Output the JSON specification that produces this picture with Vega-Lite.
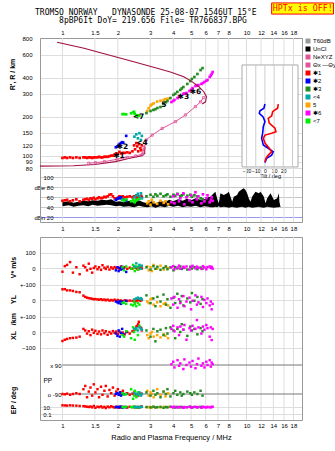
{
"$schema":"https://vega.github.io/schema/vega-lite/v6.json",
"width":262,"height":382,
"autosize":{"type":"none"},
"padding":{"left":40,"top":38,"right":33,"bottom":31},
"background":"white",
"title":{"text":["TROMSO NORWAY\u00a0\u00a0\u00a0DYNASONDE 25-08-07 1546UT 15\u00b0E","\u200b\u00a0\u00a0\u00a0\u00a0\u00a08pBP6It DoY= 219.656 File= TR766837.BPG"],"font":"DejaVu Sans Mono","fontSize":8,"fontWeight":"normal","color":"#000","anchor":"start","frame":"group","dx":-5,"offset":-23,"lineHeight":8.5},
"config":{"view":{"stroke":null},"axis":{"labelFont":"Liberation Sans","labelFontSize":6,"labelColor":"#000","titleFont":"Liberation Sans","titleFontSize":7,"titleFontWeight":"bold","titleColor":"#000","domainColor":"#999","gridColor":"#dddddd","ticks":false,"labelFlush":false,"labelOverlap":false}},
"datasets":{
"ticks":[{"f":1},{"f":1.5},{"f":2},{"f":3},{"f":4},{"f":5},{"f":6},{"f":7},{"f":8},{"f":10},{"f":12},{"f":14},{"f":16},{"f":18}],
"echo":[
{"s":"1","f":1.00,"h":96,"a":53,"v":-24,"yl":69,"xl":-58,"pp":-90,"ep":30},
{"s":"1","f":1.03,"h":97,"a":54,"v":12,"yl":70,"xl":-50,"pp":-92,"ep":28},
{"s":"1","f":1.06,"h":96,"a":55,"v":20,"yl":62,"xl":-45,"pp":-88,"ep":25},
{"s":"1","f":1.10,"h":97,"a":52,"v":38,"yl":62,"xl":-40,"pp":-95,"ep":30},
{"s":"1","f":1.14,"h":96,"a":54,"v":-30,"yl":58,"xl":-38,"pp":-90,"ep":26},
{"s":"1","f":1.19,"h":97,"a":56,"v":5,"yl":52,"xl":-36,"pp":-85,"ep":24},
{"s":"1","f":1.24,"h":96,"a":52,"v":-40,"yl":50,"xl":-30,"pp":-90,"ep":20},
{"s":"1","f":1.30,"h":97,"a":55,"v":15,"yl":28,"xl":20,"pp":-60,"ep":18},
{"s":"1","f":1.33,"h":97,"a":56,"v":5,"yl":20,"xl":10,"pp":-40,"ep":15},
{"s":"1","f":1.36,"h":96,"a":57,"v":-15,"yl":15,"xl":-10,"pp":-110,"ep":12},
{"s":"1","f":1.39,"h":97,"a":55,"v":28,"yl":12,"xl":5,"pp":-75,"ep":10},
{"s":"1","f":1.42,"h":97,"a":58,"v":-5,"yl":10,"xl":-20,"pp":-50,"ep":14},
{"s":"1","f":1.45,"h":96,"a":57,"v":-30,"yl":8,"xl":15,"pp":-100,"ep":8},
{"s":"1","f":1.48,"h":97,"a":59,"v":0,"yl":5,"xl":-5,"pp":-30,"ep":20},
{"s":"1","f":1.51,"h":97,"a":56,"v":10,"yl":6,"xl":8,"pp":-80,"ep":6},
{"s":"1","f":1.55,"h":97,"a":58,"v":-8,"yl":4,"xl":-12,"pp":-60,"ep":12},
{"s":"1","f":1.58,"h":98,"a":60,"v":5,"yl":2,"xl":3,"pp":-110,"ep":9},
{"s":"1","f":1.62,"h":97,"a":58,"v":-12,"yl":5,"xl":-15,"pp":-45,"ep":15},
{"s":"1","f":1.65,"h":97,"a":59,"v":18,"yl":0,"xl":10,"pp":-95,"ep":7},
{"s":"1","f":1.69,"h":98,"a":61,"v":2,"yl":3,"xl":-8,"pp":-70,"ep":11},
{"s":"1","f":1.72,"h":98,"a":60,"v":-6,"yl":-2,"xl":5,"pp":-40,"ep":5},
{"s":"1","f":1.76,"h":98,"a":62,"v":8,"yl":2,"xl":-18,"pp":-105,"ep":13},
{"s":"1","f":1.80,"h":99,"a":65,"v":-10,"yl":-4,"xl":0,"pp":-65,"ep":8},
{"s":"1","f":1.84,"h":100,"a":66,"v":4,"yl":0,"xl":-10,"pp":-85,"ep":16},
{"s":"1","f":1.88,"h":100,"a":62,"v":-4,"yl":-3,"xl":6,"pp":-50,"ep":10},
{"s":"1","f":1.92,"h":102,"a":58,"v":6,"yl":2,"xl":-5,"pp":-100,"ep":7},
{"s":"1","f":1.96,"h":104,"a":57,"v":-2,"yl":-5,"xl":3,"pp":-75,"ep":12},
{"s":"1","f":2.00,"h":103,"a":59,"v":3,"yl":0,"xl":-12,"pp":-60,"ep":9},
{"s":"1","f":2.04,"h":107,"a":62,"v":-8,"yl":-6,"xl":2,"pp":-95,"ep":6},
{"s":"1","f":2.08,"h":104,"a":61,"v":10,"yl":-3,"xl":-8,"pp":-80,"ep":14},
{"s":"1","f":2.13,"h":105,"a":62,"v":-3,"yl":-8,"xl":-4,"pp":-70,"ep":8},
{"s":"1","f":2.18,"h":105,"a":60,"v":5,"yl":-2,"xl":-15,"pp":-90,"ep":10},
{"s":"1","f":2.25,"h":106,"a":61,"v":-5,"yl":-6,"xl":0,"pp":-85,"ep":7},
{"s":"1","f":2.32,"h":105,"a":62,"v":2,"yl":-4,"xl":-10,"pp":-95,"ep":12},
{"s":"1","f":2.40,"h":108,"a":60,"v":-4,"yl":-5,"xl":5,"pp":-88,"ep":9},
{"s":"1","f":2.48,"h":112,"a":61,"v":3,"yl":-8,"xl":20,"pp":-92,"ep":11},
{"s":"1","f":2.55,"h":118,"a":60,"v":-6,"yl":-3,"xl":40,"pp":-90,"ep":8},
{"s":"1","f":2.60,"h":123,"a":62,"v":5,"yl":0,"xl":66,"pp":-85,"ep":10},
{"s":"1","f":2.65,"h":114,"a":61,"v":0,"yl":-4,"xl":30,"pp":-95,"ep":9},
{"s":"1","f":2.70,"h":120,"a":60,"v":-3,"yl":2,"xl":10,"pp":-90,"ep":12},
{"s":"1","f":2.45,"h":120,"a":62,"v":8,"yl":-10,"xl":15,"pp":-80,"ep":10},
{"s":"1","f":2.58,"h":108,"a":61,"v":-10,"yl":4,"xl":50,"pp":-100,"ep":7},
{"s":"1","f":2.68,"h":110,"a":63,"v":4,"yl":-2,"xl":25,"pp":-88,"ep":13},
{"s":"1","f":2.52,"h":125,"a":60,"v":0,"yl":-6,"xl":35,"pp":-92,"ep":9},
{"s":"2","f":1.95,"h":116,"a":55,"v":-15,"yl":-10,"xl":-10,"pp":-90,"ep":10},
{"s":"2","f":1.99,"h":118,"a":57,"v":5,"yl":-15,"xl":-25,"pp":-85,"ep":8},
{"s":"2","f":2.02,"h":121,"a":59,"v":-20,"yl":-20,"xl":10,"pp":-95,"ep":12},
{"s":"2","f":2.05,"h":123,"a":58,"v":0,"yl":-8,"xl":-30,"pp":-80,"ep":9},
{"s":"2","f":2.08,"h":125,"a":60,"v":-10,"yl":-25,"xl":-5,"pp":-100,"ep":11},
{"s":"2","f":2.11,"h":127,"a":56,"v":8,"yl":-12,"xl":20,"pp":-88,"ep":7},
{"s":"2","f":2.14,"h":126,"a":55,"v":-5,"yl":-18,"xl":-15,"pp":-92,"ep":10},
{"s":"2","f":2.22,"h":142,"a":54,"v":-25,"yl":-5,"xl":0,"pp":-90,"ep":9},
{"s":"7","f":2.12,"h":209,"a":55,"v":5,"yl":-20,"xl":-20,"pp":-85,"ep":10},
{"s":"7","f":2.16,"h":209,"a":53,"v":-15,"yl":-15,"xl":-30,"pp":-95,"ep":8},
{"s":"7","f":2.22,"h":208,"a":56,"v":10,"yl":-25,"xl":5,"pp":-90,"ep":12},
{"s":"7","f":2.36,"h":212,"a":52,"v":-5,"yl":-30,"xl":-40,"pp":-60,"ep":9},
{"s":"7","f":2.42,"h":216,"a":55,"v":20,"yl":-35,"xl":30,"pp":-120,"ep":11},
{"s":"7","f":2.47,"h":210,"a":50,"v":-20,"yl":-25,"xl":-50,"pp":-70,"ep":7},
{"s":"7","f":2.52,"h":205,"a":54,"v":10,"yl":-40,"xl":15,"pp":-110,"ep":10},
{"s":"7","f":2.57,"h":202,"a":56,"v":-10,"yl":-20,"xl":-20,"pp":-80,"ep":9},
{"s":"7","f":2.62,"h":204,"a":57,"v":15,"yl":-30,"xl":40,"pp":-95,"ep":8},
{"s":"7","f":2.45,"h":218,"a":53,"v":0,"yl":-10,"xl":0,"pp":-100,"ep":12},
{"s":"4","f":2.46,"h":140,"a":60,"v":10,"yl":5,"xl":20,"pp":-85,"ep":10},
{"s":"4","f":2.52,"h":146,"a":64,"v":30,"yl":10,"xl":25,"pp":-90,"ep":9},
{"s":"4","f":2.57,"h":136,"a":67,"v":5,"yl":15,"xl":10,"pp":-95,"ep":11},
{"s":"4","f":2.62,"h":149,"a":62,"v":20,"yl":8,"xl":30,"pp":-80,"ep":8},
{"s":"4","f":2.67,"h":132,"a":68,"v":-5,"yl":12,"xl":22,"pp":-100,"ep":10},
{"s":"4","f":2.70,"h":142,"a":58,"v":15,"yl":3,"xl":15,"pp":-90,"ep":12},
{"s":"5","f":2.89,"h":221,"a":48,"v":10,"yl":-10,"xl":-20,"pp":-70,"ep":8},
{"s":"5","f":2.94,"h":232,"a":52,"v":-15,"yl":-20,"xl":-40,"pp":-100,"ep":10},
{"s":"5","f":3.01,"h":243,"a":45,"v":5,"yl":5,"xl":-10,"pp":-80,"ep":7},
{"s":"5","f":3.13,"h":253,"a":50,"v":20,"yl":-30,"xl":-30,"pp":-110,"ep":12},
{"s":"5","f":3.27,"h":261,"a":47,"v":-5,"yl":-15,"xl":-20,"pp":-60,"ep":9},
{"s":"5","f":3.41,"h":265,"a":53,"v":15,"yl":-40,"xl":-35,"pp":-95,"ep":8},
{"s":"5","f":3.55,"h":269,"a":49,"v":-10,"yl":-25,"xl":-15,"pp":-75,"ep":11},
{"s":"5","f":3.63,"h":273,"a":52,"v":8,"yl":-20,"xl":-25,"pp":-105,"ep":9},
{"s":"5","f":3.75,"h":275,"a":46,"v":0,"yl":-35,"xl":-40,"pp":-85,"ep":10},
{"s":"5","f":3.06,"h":248,"a":55,"v":-20,"yl":10,"xl":0,"pp":-90,"ep":7},
{"s":"3","f":2.86,"h":213,"a":62,"v":5,"yl":30,"xl":10,"pp":-80,"ep":10},
{"s":"3","f":3.01,"h":221,"a":65,"v":-10,"yl":-20,"xl":-30,"pp":-100,"ep":8},
{"s":"3","f":3.12,"h":225,"a":61,"v":12,"yl":10,"xl":20,"pp":-70,"ep":12},
{"s":"3","f":3.20,"h":228,"a":66,"v":-5,"yl":-40,"xl":-60,"pp":-95,"ep":7},
{"s":"3","f":3.28,"h":233,"a":63,"v":8,"yl":20,"xl":5,"pp":-85,"ep":9},
{"s":"3","f":3.41,"h":237,"a":67,"v":-12,"yl":-10,"xl":15,"pp":-110,"ep":11},
{"s":"3","f":3.54,"h":250,"a":62,"v":0,"yl":35,"xl":-20,"pp":-75,"ep":6},
{"s":"3","f":3.65,"h":258,"a":64,"v":10,"yl":-30,"xl":25,"pp":-90,"ep":10},
{"s":"3","f":3.72,"h":264,"a":66,"v":-8,"yl":5,"xl":-10,"pp":-60,"ep":8},
{"s":"3","f":3.86,"h":278,"a":61,"v":4,"yl":-50,"xl":30,"pp":-105,"ep":12},
{"s":"3","f":4.01,"h":294,"a":65,"v":-15,"yl":15,"xl":10,"pp":-85,"ep":9},
{"s":"3","f":4.10,"h":300,"a":63,"v":6,"yl":-20,"xl":-40,"pp":-70,"ep":7},
{"s":"3","f":4.21,"h":310,"a":67,"v":-3,"yl":40,"xl":20,"pp":-95,"ep":11},
{"s":"3","f":4.37,"h":321,"a":62,"v":10,"yl":-10,"xl":0,"pp":-80,"ep":8},
{"s":"3","f":4.45,"h":330,"a":64,"v":-6,"yl":25,"xl":50,"pp":-100,"ep":10},
{"s":"3","f":4.54,"h":338,"a":66,"v":2,"yl":-35,"xl":15,"pp":-90,"ep":6},
{"s":"3","f":4.77,"h":357,"a":63,"v":-10,"yl":10,"xl":-25,"pp":-75,"ep":9},
{"s":"3","f":4.95,"h":376,"a":65,"v":8,"yl":-15,"xl":35,"pp":-85,"ep":12},
{"s":"3","f":5.05,"h":390,"a":61,"v":-4,"yl":45,"xl":10,"pp":-95,"ep":7},
{"s":"3","f":5.21,"h":404,"a":64,"v":5,"yl":-5,"xl":20,"pp":-80,"ep":10},
{"s":"3","f":5.41,"h":426,"a":62,"v":-8,"yl":20,"xl":-15,"pp":-90,"ep":8},
{"s":"3","f":5.63,"h":457,"a":58,"v":3,"yl":-25,"xl":25,"pp":-70,"ep":11},
{"s":"3","f":5.77,"h":473,"a":56,"v":-5,"yl":5,"xl":5,"pp":-100,"ep":9},
{"s":"6","f":3.91,"h":259,"a":50,"v":5,"yl":10,"xl":20,"pp":95,"ep":10},
{"s":"6","f":4.00,"h":264,"a":62,"v":12,"yl":-30,"xl":40,"pp":110,"ep":8},
{"s":"6","f":4.06,"h":269,"a":48,"v":-8,"yl":20,"xl":5,"pp":75,"ep":12},
{"s":"6","f":4.22,"h":278,"a":66,"v":3,"yl":-50,"xl":30,"pp":120,"ep":7},
{"s":"6","f":4.30,"h":284,"a":52,"v":15,"yl":5,"xl":-20,"pp":85,"ep":9},
{"s":"6","f":4.37,"h":288,"a":58,"v":-5,"yl":-20,"xl":35,"pp":100,"ep":11},
{"s":"6","f":4.54,"h":299,"a":68,"v":8,"yl":25,"xl":15,"pp":65,"ep":6},
{"s":"6","f":4.60,"h":302,"a":46,"v":0,"yl":-40,"xl":45,"pp":125,"ep":10},
{"s":"6","f":4.72,"h":304,"a":60,"v":10,"yl":-10,"xl":-50,"pp":90,"ep":8},
{"s":"6","f":4.90,"h":315,"a":54,"v":-10,"yl":15,"xl":25,"pp":105,"ep":12},
{"s":"6","f":5.00,"h":322,"a":64,"v":6,"yl":-60,"xl":10,"pp":80,"ep":7},
{"s":"6","f":5.09,"h":332,"a":50,"v":14,"yl":-5,"xl":40,"pp":115,"ep":9},
{"s":"6","f":5.28,"h":344,"a":70,"v":-3,"yl":30,"xl":20,"pp":70,"ep":11},
{"s":"6","f":5.38,"h":347,"a":56,"v":9,"yl":-30,"xl":77,"pp":95,"ep":8},
{"s":"6","f":5.48,"h":350,"a":62,"v":2,"yl":-15,"xl":30,"pp":130,"ep":10},
{"s":"6","f":5.69,"h":357,"a":48,"v":-6,"yl":20,"xl":-10,"pp":85,"ep":6},
{"s":"6","f":5.80,"h":363,"a":66,"v":12,"yl":-45,"xl":35,"pp":100,"ep":12},
{"s":"6","f":5.91,"h":370,"a":52,"v":4,"yl":0,"xl":15,"pp":75,"ep":9},
{"s":"6","f":6.05,"h":378,"a":58,"v":-8,"yl":-20,"xl":45,"pp":110,"ep":7},
{"s":"6","f":6.14,"h":383,"a":64,"v":6,"yl":10,"xl":25,"pp":90,"ep":11},
{"s":"6","f":6.31,"h":404,"a":50,"v":10,"yl":-35,"xl":-30,"pp":120,"ep":8},
{"s":"6","f":6.40,"h":415,"a":55,"v":0,"yl":-10,"xl":30,"pp":80,"ep":10},
{"s":"6","f":6.47,"h":426,"a":60,"v":8,"yl":-60,"xl":-52,"pp":105,"ep":9},
{"s":"6","f":6.55,"h":441,"a":53,"v":-4,"yl":-25,"xl":20,"pp":95,"ep":12}
],
"unc":[
{"f":1.00,"lo":42,"hi":50},{"f":1.08,"lo":44,"hi":52},{"f":1.15,"lo":41,"hi":49},{"f":1.22,"lo":43,"hi":51},{"f":1.30,"lo":44,"hi":53},{"f":1.38,"lo":42,"hi":52},{"f":1.46,"lo":45,"hi":54},{"f":1.55,"lo":43,"hi":53},{"f":1.64,"lo":44,"hi":55},{"f":1.74,"lo":45,"hi":54},{"f":1.84,"lo":44,"hi":56},{"f":1.95,"lo":42,"hi":51},{"f":2.05,"lo":43,"hi":52},{"f":2.15,"lo":41,"hi":50},{"f":2.30,"lo":42,"hi":53},{"f":2.45,"lo":40,"hi":49},{"f":2.60,"lo":43,"hi":54},{"f":2.75,"lo":41,"hi":50},{"f":2.90,"lo":40,"hi":48},{"f":3.05,"lo":42,"hi":52},{"f":3.20,"lo":39,"hi":47},{"f":3.40,"lo":42,"hi":53},{"f":3.60,"lo":40,"hi":50},{"f":3.80,"lo":43,"hi":55},{"f":4.00,"lo":41,"hi":52},{"f":4.25,"lo":43,"hi":56},{"f":4.50,"lo":40,"hi":53},{"f":4.75,"lo":42,"hi":57},{"f":5.00,"lo":41,"hi":54},{"f":5.30,"lo":43,"hi":58},{"f":5.60,"lo":40,"hi":55},{"f":5.90,"lo":42,"hi":56},{"f":6.20,"lo":41,"hi":60},{"f":6.37,"lo":40,"hi":61},
{"f":6.64,"lo":40,"hi":68},{"f":6.78,"lo":41,"hi":71},{"f":6.92,"lo":40,"hi":58},{"f":7.07,"lo":42,"hi":48},{"f":7.22,"lo":40,"hi":68},{"f":7.53,"lo":41,"hi":64.6},{"f":7.85,"lo":40,"hi":68},{"f":8.02,"lo":39,"hi":71},{"f":8.19,"lo":40,"hi":61},{"f":8.36,"lo":41,"hi":51},{"f":8.53,"lo":40,"hi":61},{"f":8.89,"lo":39,"hi":64.6},{"f":9.08,"lo":40,"hi":71},{"f":9.46,"lo":41,"hi":76},{"f":9.67,"lo":40,"hi":78},{"f":9.87,"lo":39,"hi":74.6},{"f":10.08,"lo":40,"hi":68},{"f":10.29,"lo":41,"hi":58},{"f":10.51,"lo":40,"hi":51},{"f":10.73,"lo":39,"hi":61},{"f":11.19,"lo":40,"hi":71},{"f":11.67,"lo":41,"hi":68},{"f":11.92,"lo":40,"hi":71},{"f":12.43,"lo":39,"hi":61},{"f":12.69,"lo":40,"hi":48},{"f":12.96,"lo":41,"hi":58},{"f":13.51,"lo":40,"hi":68},{"f":14.09,"lo":39,"hi":54.6},{"f":14.69,"lo":40,"hi":58},{"f":15.00,"lo":40,"hi":68},{"f":15.10,"lo":41,"hi":51},{"f":15.30,"lo":40,"hi":41}
],
"maroon":[
{"seg":"u","i":0,"f":0.935,"h":748},{"seg":"u","i":1,"f":1.31,"h":672},{"seg":"u","i":2,"f":1.61,"h":621},{"seg":"u","i":3,"f":2.44,"h":530},{"seg":"u","i":4,"f":3.27,"h":471},{"seg":"u","i":5,"f":3.86,"h":442},{"seg":"u","i":6,"f":4.56,"h":406},{"seg":"u","i":7,"f":5.06,"h":372},{"seg":"u","i":8,"f":5.51,"h":340},{"seg":"u","i":9,"f":5.86,"h":311},{"seg":"u","i":10,"f":6.06,"h":285},{"seg":"u","i":11,"f":5.99,"h":260},{"seg":"u","i":12,"f":5.74,"h":250},
{"seg":"l","i":0,"f":0.755,"h":83},{"seg":"l","i":1,"f":1.15,"h":83.5},{"seg":"l","i":2,"f":1.5,"h":85.5},{"seg":"l","i":3,"f":1.94,"h":90},{"seg":"l","i":4,"f":2.29,"h":95},{"seg":"l","i":5,"f":2.71,"h":100},{"seg":"l","i":6,"f":2.80,"h":104},{"seg":"l","i":7,"f":2.80,"h":117}
],
"nexyz":[
{"k":"NeXYZ","i":0,"f":1.39,"h":87.4},{"k":"NeXYZ","i":1,"f":1.51,"h":88.3},{"k":"NeXYZ","i":2,"f":1.69,"h":89.9},{"k":"NeXYZ","i":3,"f":1.98,"h":93.8},{"k":"NeXYZ","i":4,"f":2.25,"h":97},{"k":"NeXYZ","i":5,"f":2.5,"h":99.5},{"k":"NeXYZ","i":6,"f":2.72,"h":103},{"k":"NeXYZ","i":7,"f":2.78,"h":115},{"k":"NeXYZ","i":8,"f":2.85,"h":132},{"k":"NeXYZ","i":9,"f":3.07,"h":144},{"k":"NeXYZ","i":10,"f":3.48,"h":162},{"k":"NeXYZ","i":11,"f":4.11,"h":183},{"k":"NeXYZ","i":12,"f":4.66,"h":206},{"k":"NeXYZ","i":13,"f":5.28,"h":239},{"k":"NeXYZ","i":14,"f":5.63,"h":260},{"k":"NeXYZ","i":15,"f":5.85,"h":280}
],
"lbl":[{"t":"\u27311","f":2.03,"h":98.6},{"t":"\u27312","f":2.12,"h":115.6},{"t":"<4","f":2.70,"h":126},{"t":"<7","f":2.59,"h":197},{"t":"5","f":3.56,"h":244},{"t":"\u27313","f":4.54,"h":281},{"t":"\u27316","f":5.28,"h":307}],
"tilt":[
{"c":"x","i":0,"t":14.5,"h":250},{"c":"x","i":1,"t":13.8,"h":232},{"c":"x","i":2,"t":10.9,"h":225},{"c":"x","i":3,"t":8.4,"h":218},{"c":"x","i":4,"t":7.3,"h":202},{"c":"x","i":5,"t":5.4,"h":198},{"c":"x","i":6,"t":3.6,"h":194},{"c":"x","i":7,"t":4.7,"h":178},{"c":"x","i":8,"t":10.9,"h":163},{"c":"x","i":9,"t":12,"h":153},{"c":"x","i":10,"t":7.3,"h":149},{"c":"x","i":11,"t":0,"h":144},{"c":"x","i":12,"t":-1.8,"h":136},{"c":"x","i":13,"t":0,"h":125},{"c":"x","i":14,"t":4.7,"h":114},{"c":"x","i":15,"t":7.3,"h":107},{"c":"x","i":16,"t":3.6,"h":101},{"c":"x","i":17,"t":1.1,"h":95.5},{"c":"x","i":18,"t":0,"h":89.9},
{"c":"y","i":0,"t":0,"h":250},{"c":"y","i":1,"t":-1.1,"h":232},{"c":"y","i":2,"t":-5.4,"h":222},{"c":"y","i":3,"t":-6.2,"h":212},{"c":"y","i":4,"t":-1.8,"h":198},{"c":"y","i":5,"t":0,"h":183},{"c":"y","i":6,"t":-1.8,"h":167},{"c":"y","i":7,"t":-2.5,"h":149},{"c":"y","i":8,"t":-3.6,"h":136},{"c":"y","i":9,"t":-1.8,"h":121},{"c":"y","i":10,"t":3.6,"h":114},{"c":"y","i":11,"t":9,"h":107},{"c":"y","i":12,"t":7.3,"h":101},{"c":"y","i":13,"t":1.8,"h":95.5},{"c":"y","i":14,"t":0,"h":88.4}
],
"tticks":[{"t":-20},{"t":-10},{"t":0},{"t":10},{"t":20},{"t":30}],
"pplines":[{"p":90},{"p":-90}]
},
"resolve":{"scale":{"x":"independent","y":"independent"},"axis":{"x":"independent","y":"independent"}},
"layer":[
{"data":{"name":"ticks"},"mark":{"type":"rule","color":"#dddddd","strokeWidth":1},
 "encoding":{
  "x":{"field":"f","type":"quantitative","scale":{"type":"log","domain":[0.755,20.03],"nice":false},"axis":{"orient":"top","values":[1,1.5,2,3,4,5,6,7,8,10,12,14,16,18],"format":"~g","labelPadding":3,"domain":true,"grid":false,"title":null}},
  "y":{"datum":807,"type":"quantitative","scale":{"type":"log","domain":[30.8,807],"range":[184,0],"nice":false},"axis":{"orient":"right","labels":false,"grid":false,"domain":true,"title":null}},
  "y2":{"datum":30.8}}},
{"data":{"name":"ticks"},"mark":{"type":"rule","color":"#dddddd","strokeWidth":1},
 "encoding":{
  "x":{"field":"f","type":"quantitative","scale":{"type":"log","domain":[0.755,20.03],"nice":false},"axis":{"orient":"bottom","values":[1,1.5,2,3,4,5,6,7,8,10,12,14,16,18],"format":"~g","labelPadding":2,"domain":true,"grid":false,"title":"Radio and Plasma Frequency / MHz","titlePadding":5,"titleFontWeight":"normal","titleFontSize":7.5}},
  "y":{"datum":200,"type":"quantitative","scale":{"domain":[-980.6,200],"range":[382,199],"zero":false,"nice":false},"axis":{"orient":"right","labels":false,"grid":false,"domain":true,"title":null}},
  "y2":{"datum":-980.6}}},
{"data":{"name":"unc"},"mark":{"type":"area","color":"#000000"},
 "encoding":{
  "x":{"field":"f","type":"quantitative","scale":{"type":"log","domain":[0.755,20.03],"nice":false},"axis":null},
  "y":{"field":"lo","type":"quantitative","scale":{"domain":[20,100],"range":[179.3,139.3],"zero":false,"nice":false},"axis":{"orient":"left","values":[100,80,60,40,20],"labelExpr":"datum.value == 80 ? 'dBe 80' : datum.value == 20 ? 'dBn 20' : datum.label","labelPadding":-13,"grid":true,"gridColor":{"condition":{"test":"datum.value === 20","value":"#9999ee"},"value":"#c8c8c8"},"domain":false,"title":null}},
  "y2":{"field":"hi"}}},
{"data":{"name":"echo"},"mark":{"type":"square","size":7,"opacity":1},
 "encoding":{
  "x":{"field":"f","type":"quantitative","scale":{"type":"log","domain":[0.755,20.03],"nice":false},"axis":{"orient":"bottom","offset":-198,"values":[1,1.5,2,3,4,5,6,7,8,10,12,14,16,18],"format":"~g","labelPadding":3,"domain":true,"grid":false,"title":null}},
  "y":{"field":"h","type":"quantitative","scale":{"type":"log","domain":[30.8,807],"range":[184,0],"nice":false},"axis":{"orient":"left","values":[800,600,400,300,200,150,120,100,90,80],"format":"d","grid":true,"labelPadding":8,"domain":true,"title":"R', R / km","titleX":-28,"titleY":36,"titleAlign":"center","titleBaseline":"middle"}},
  "color":{"field":"s","type":"nominal","scale":{"domain":["T60dB","UnCl","NeXYZ","\u0398x \u2014\u0398y","1","2","3","4","5","6","7"],"range":["#999999","#000000","#e0559a","#e0559a","#ff0000","#0000ff","#228b22","#00a8a8","#ffa500","#ff00ff","#00ee00"]},
   "legend":{"orient":"none","legendX":265,"legendY":0,"title":null,"symbolSize":12,"symbolType":"square","labelFontSize":6,"labelFont":"Liberation Sans","labelColor":"#000","labelLimit":36,"rowPadding":-2.6,"padding":0,"labelOffset":2,
    "labelExpr":"datum.value=='1'?'\u27311':datum.value=='2'?'\u27312':datum.value=='3'?'\u27313':datum.value=='4'?'<4':datum.value=='5'?'\u00a0 5':datum.value=='6'?'\u27316':datum.value=='7'?'<7':datum.label"}}}},
{"data":{"name":"maroon"},"mark":{"type":"line","color":"#a01040","strokeWidth":1.1},
 "encoding":{
  "x":{"field":"f","type":"quantitative","scale":{"type":"log","domain":[0.755,20.03],"nice":false},"axis":null},
  "y":{"field":"h","type":"quantitative","scale":{"type":"log","domain":[30.8,807],"range":[184,0],"nice":false},"axis":null},
  "detail":{"field":"seg"},"order":{"field":"i","type":"quantitative"}}},
{"data":{"name":"nexyz"},"mark":{"type":"line","strokeWidth":1,"point":{"shape":"square","size":5,"filled":false,"strokeWidth":0.8}},
 "encoding":{
  "x":{"field":"f","type":"quantitative","scale":{"type":"log","domain":[0.755,20.03],"nice":false},"axis":null},
  "y":{"field":"h","type":"quantitative","scale":{"type":"log","domain":[30.8,807],"range":[184,0],"nice":false},"axis":null},
  "order":{"field":"i","type":"quantitative"},
  "color":{"field":"k","type":"nominal","scale":{"domain":["T60dB","UnCl","NeXYZ","\u0398x \u2014\u0398y","1","2","3","4","5","6","7"],"range":["#999999","#000000","#e0559a","#e0559a","#ff0000","#0000ff","#228b22","#00a8a8","#ffa500","#ff00ff","#00ee00"]},"legend":null}}},
{"data":{"name":"lbl"},"mark":{"type":"text","font":"DejaVu Sans","fontSize":7.5,"fontWeight":"bold","color":"#000"},
 "encoding":{
  "x":{"field":"f","type":"quantitative","scale":{"type":"log","domain":[0.755,20.03],"nice":false},"axis":null},
  "y":{"field":"h","type":"quantitative","scale":{"type":"log","domain":[30.8,807],"range":[184,0],"nice":false},"axis":null},
  "text":{"field":"t"}}},
{"data":{"name":"echo"},"mark":{"type":"square","size":7,"opacity":1},
 "encoding":{
  "x":{"field":"f","type":"quantitative","scale":{"type":"log","domain":[0.755,20.03],"nice":false},"axis":null},
  "y":{"field":"a","type":"quantitative","scale":{"domain":[20,100],"range":[179.3,139.3],"zero":false,"nice":false},"axis":null},
  "color":{"field":"s","type":"nominal","scale":{"domain":["T60dB","UnCl","NeXYZ","\u0398x \u2014\u0398y","1","2","3","4","5","6","7"],"range":["#999999","#000000","#e0559a","#e0559a","#ff0000","#0000ff","#228b22","#00a8a8","#ffa500","#ff00ff","#00ee00"]},"legend":null}}},
{"data":{"name":"echo"},"mark":{"type":"square","size":6,"opacity":1},
 "encoding":{
  "x":{"field":"f","type":"quantitative","scale":{"type":"log","domain":[0.755,20.03],"nice":false},"axis":{"orient":"top","offset":-199,"labels":false,"domain":true,"grid":false,"title":null}},
  "y":{"field":"v","type":"quantitative","scale":{"domain":[-980.6,200],"range":[382,199],"zero":false,"nice":false},"axis":{"orient":"left","values":[100,0],"grid":true,"labelPadding":5,"domain":true,"title":"V* m/s","titleX":-27,"titleY":229,"titleAlign":"center","titleBaseline":"middle"}},
  "color":{"field":"s","type":"nominal","scale":{"domain":["T60dB","UnCl","NeXYZ","\u0398x \u2014\u0398y","1","2","3","4","5","6","7"],"range":["#999999","#000000","#e0559a","#e0559a","#ff0000","#0000ff","#228b22","#00a8a8","#ffa500","#ff00ff","#00ee00"]},"legend":null}}},
{"data":{"name":"echo"},"mark":{"type":"square","size":6,"opacity":1},
 "encoding":{
  "x":{"field":"f","type":"quantitative","scale":{"type":"log","domain":[0.755,20.03],"nice":false},"axis":null},
  "y":{"field":"yl","type":"quantitative","scale":{"domain":[-100,100],"range":[277.5,246.5],"zero":false,"nice":false},"axis":{"orient":"left","values":[100,0],"labelExpr":"datum.value == 100 ? '+-100' : '0'","grid":true,"labelPadding":5,"domain":false,"title":"YL","titleX":-27,"titleY":261,"titleAlign":"center","titleBaseline":"middle"}},
  "color":{"field":"s","type":"nominal","scale":{"domain":["T60dB","UnCl","NeXYZ","\u0398x \u2014\u0398y","1","2","3","4","5","6","7"],"range":["#999999","#000000","#e0559a","#e0559a","#ff0000","#0000ff","#228b22","#00a8a8","#ffa500","#ff00ff","#00ee00"]},"legend":null}}},
{"data":{"name":"echo"},"mark":{"type":"square","size":6,"opacity":1},
 "encoding":{
  "x":{"field":"f","type":"quantitative","scale":{"type":"log","domain":[0.755,20.03],"nice":false},"axis":null},
  "y":{"field":"xl","type":"quantitative","scale":{"domain":[-100,100],"range":[309.5,278.5],"zero":false,"nice":false},"axis":{"orient":"left","values":[100,0,-100],"labelExpr":"datum.value == 100 ? '+-100' : datum.label","grid":true,"labelPadding":5,"domain":false,"title":"XL\u00a0\u00a0\u00a0/km","titleX":-27,"titleY":288,"titleAlign":"center","titleBaseline":"middle"}},
  "color":{"field":"s","type":"nominal","scale":{"domain":["T60dB","UnCl","NeXYZ","\u0398x \u2014\u0398y","1","2","3","4","5","6","7"],"range":["#999999","#000000","#e0559a","#e0559a","#ff0000","#0000ff","#228b22","#00a8a8","#ffa500","#ff00ff","#00ee00"]},"legend":null}}},
{"data":{"name":"pplines"},"mark":{"type":"rule","color":"#777777","strokeWidth":1},
 "encoding":{
  "x":{"datum":1.0,"type":"quantitative","scale":{"type":"log","domain":[0.755,20.03],"nice":false},"axis":null},
  "x2":{"datum":20.03},
  "y":{"field":"p","type":"quantitative","scale":{"domain":[-90,90],"range":[356,327],"zero":false,"nice":false},"axis":{"orient":"left","values":[90,-90],"labelExpr":"datum.value > 0 ? 'x 90' : 'o -90'","labelPadding":-21,"grid":false,"domain":false,"title":"PP","titleAngle":0,"titleX":3,"titleY":342,"titleAlign":"left","titleBaseline":"middle","titleFontWeight":"normal","titleFontSize":6.5}}}},
{"data":{"name":"echo"},"mark":{"type":"square","size":6,"opacity":1},
 "encoding":{
  "x":{"field":"f","type":"quantitative","scale":{"type":"log","domain":[0.755,20.03],"nice":false},"axis":null},
  "y":{"field":"pp","type":"quantitative","scale":{"domain":[-90,90],"range":[356,327],"zero":false,"nice":false},"axis":null},
  "color":{"field":"s","type":"nominal","scale":{"domain":["T60dB","UnCl","NeXYZ","\u0398x \u2014\u0398y","1","2","3","4","5","6","7"],"range":["#999999","#000000","#e0559a","#e0559a","#ff0000","#0000ff","#228b22","#00a8a8","#ffa500","#ff00ff","#00ee00"]},"legend":null}}},
{"data":{"name":"echo"},"mark":{"type":"square","size":6,"opacity":1},
 "encoding":{
  "x":{"field":"f","type":"quantitative","scale":{"type":"log","domain":[0.755,20.03],"nice":false},"axis":null},
  "y":{"field":"ep","type":"quantitative","scale":{"type":"log","domain":[0.1,10],"range":[376,369],"nice":false},"axis":{"orient":"left","values":[10,0.1],"labelExpr":"datum.value == 10 ? '10.' : '0.1'","grid":true,"labelPadding":-11,"domain":false,"title":"EP / deg","titleX":-27,"titleY":362,"titleAlign":"center","titleBaseline":"middle"}},
  "color":{"field":"s","type":"nominal","scale":{"domain":["T60dB","UnCl","NeXYZ","\u0398x \u2014\u0398y","1","2","3","4","5","6","7"],"range":["#999999","#000000","#e0559a","#e0559a","#ff0000","#0000ff","#228b22","#00a8a8","#ffa500","#ff00ff","#00ee00"]},"legend":null}}},
{"data":{"values":[{}]},"mark":{"type":"rect","fill":"#ffffff","stroke":"#aaaaaa","strokeWidth":1},
 "encoding":{
  "x":{"datum":-25,"type":"quantitative","scale":{"domain":[-25,36],"range":[202,258],"zero":false,"nice":false},"axis":{"orient":"bottom","offset":-253,"values":[-20,-10,0,10,20],"labelFontSize":5,"labelPadding":1,"domain":false,"grid":false,"title":"Tilt / deg","titleFontSize":5.5,"titleFontWeight":"normal","titlePadding":0}},
  "x2":{"datum":36},
  "y":{"datum":500,"type":"quantitative","scale":{"type":"log","domain":[30.8,807],"range":[184,0],"nice":false},"axis":null},
  "y2":{"datum":81.8}}},
{"data":{"name":"tticks"},"mark":{"type":"rule","color":"#cccccc","strokeWidth":1},
 "encoding":{
  "x":{"field":"t","type":"quantitative","scale":{"domain":[-25,36],"range":[202,258],"zero":false,"nice":false},"axis":null},
  "y":{"datum":500,"type":"quantitative","scale":{"type":"log","domain":[30.8,807],"range":[184,0],"nice":false},"axis":null},
  "y2":{"datum":81.8}}},
{"data":{"name":"tilt"},"transform":[{"filter":"datum.c == 'y'"}],"mark":{"type":"line","color":"#0000ff","strokeWidth":1.6},
 "encoding":{
  "x":{"field":"t","type":"quantitative","scale":{"domain":[-25,36],"range":[202,258],"zero":false,"nice":false},"axis":null},
  "y":{"field":"h","type":"quantitative","scale":{"type":"log","domain":[30.8,807],"range":[184,0],"nice":false},"axis":null},
  "order":{"field":"i","type":"quantitative"}}},
{"data":{"name":"tilt"},"transform":[{"filter":"datum.c == 'x'"}],"mark":{"type":"line","color":"#ff0000","strokeWidth":1.6},
 "encoding":{
  "x":{"field":"t","type":"quantitative","scale":{"domain":[-25,36],"range":[202,258],"zero":false,"nice":false},"axis":null},
  "y":{"field":"h","type":"quantitative","scale":{"type":"log","domain":[30.8,807],"range":[184,0],"nice":false},"axis":null},
  "order":{"field":"i","type":"quantitative"}}},
{"data":{"values":[{}]},"mark":{"type":"rect","fill":"#ffff00","stroke":"#ff0000","strokeWidth":1,"clip":false},
 "encoding":{
  "x":{"datum":13.7,"type":"quantitative","scale":{"type":"log","domain":[0.755,20.03],"nice":false},"axis":null},
  "x2":{"datum":29.7},
  "y":{"datum":1504,"type":"quantitative","scale":{"type":"log","domain":[30.8,807],"range":[184,0],"nice":false},"axis":null},
  "y2":{"datum":1234}}},
{"data":{"values":[{}]},"mark":{"type":"text","text":"HPTx is OFF!","font":"DejaVu Sans Mono","fontSize":8.3,"color":"#ff0000","clip":false},
 "encoding":{
  "x":{"datum":20.2,"type":"quantitative","scale":{"type":"log","domain":[0.755,20.03],"nice":false},"axis":null},
  "y":{"datum":1362,"type":"quantitative","scale":{"type":"log","domain":[30.8,807],"range":[184,0],"nice":false},"axis":null}}}
]
}
